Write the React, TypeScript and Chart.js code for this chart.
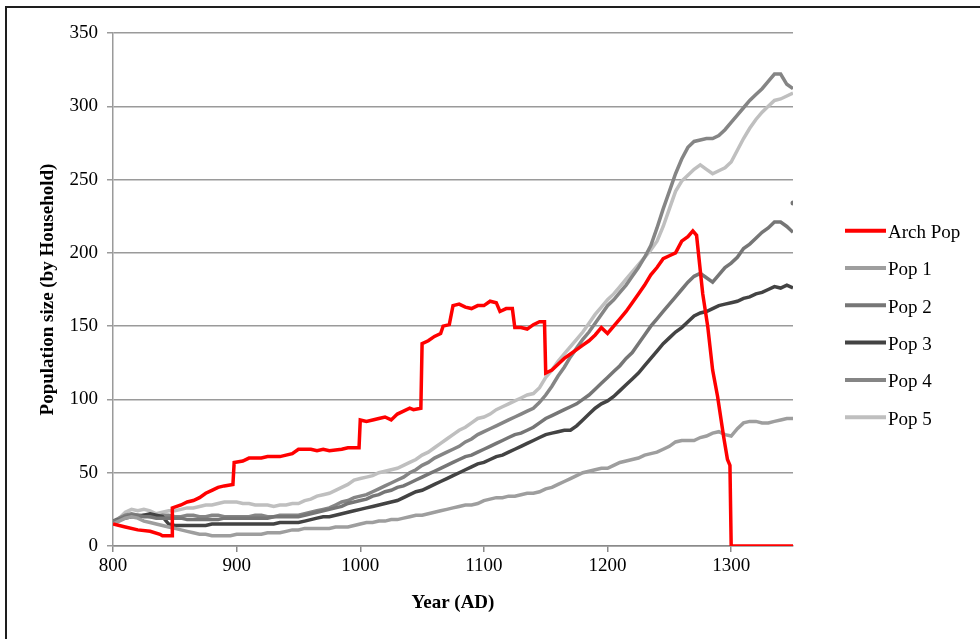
import React, { useEffect, useRef } from "react";
import { Chart, registerables } from "chart.js";

Chart.register(...registerables);

// ---- data ----
const years = [
  800, 805, 810, 815, 820, 825, 830, 835, 840, 845,
  850, 855, 860, 865, 870, 875, 880, 885, 890, 895,
  900, 905, 910, 915, 920, 925, 930, 935, 940, 945,
  950, 955, 960, 965, 970, 975, 980, 985, 990, 995,
  1000, 1005, 1010, 1015, 1020, 1025, 1030, 1035, 1040, 1045,
  1050, 1055, 1060, 1065, 1070, 1075, 1080, 1085, 1090, 1095,
  1100, 1105, 1110, 1115, 1120, 1125, 1130, 1135, 1140, 1145,
  1150, 1155, 1160, 1165, 1170, 1175, 1180, 1185, 1190, 1195,
  1200, 1205, 1210, 1215, 1220, 1225, 1230, 1235, 1240, 1245,
  1250, 1255, 1260, 1265, 1270, 1275, 1280, 1285, 1290, 1295,
  1300, 1305, 1310, 1315, 1320, 1325, 1330, 1335, 1340, 1345,
  1350,
];

const pop1 = [
  15, 17, 19, 20, 19, 17, 16, 15, 14, 13,
  12, 11, 10, 9, 8, 8, 7, 7, 7, 7,
  8, 8, 8, 8, 8, 9, 9, 9, 10, 11,
  11, 12, 12, 12, 12, 12, 13, 13, 13, 14,
  15, 16, 16, 17, 17, 18, 18, 19, 20, 21,
  21, 22, 23, 24, 25, 26, 27, 28, 28, 29,
  31, 32, 33, 33, 34, 34, 35, 36, 36, 37,
  39, 40, 42, 44, 46, 48, 50, 51, 52, 53,
  53, 55, 57, 58, 59, 60, 62, 63, 64, 66,
  68, 71, 72, 72, 72, 74, 75, 77, 78, 76,
  75, 80, 84, 85, 85, 84, 84, 85, 86, 87,
  87,
];

const pop2 = [
  17, 18, 20, 21, 21, 20, 20, 19, 19, 19,
  19, 19, 18, 18, 18, 18, 18, 18, 19, 19,
  19, 19, 19, 19, 19, 19, 20, 20, 20, 20,
  20, 21, 22, 23, 24, 25, 26, 27, 29, 30,
  31, 32, 34, 35, 37, 38, 40, 41, 43, 45,
  47, 49, 51, 53, 55, 57, 59, 61, 62, 64,
  66, 68, 70, 72, 74, 76, 77, 79, 81, 84,
  87, 89, 91, 93, 95, 97, 100, 103, 107, 111,
  115, 119, 123, 128, 132, 138, 144, 150, 155, 160,
  165, 170, 175, 180, 184, 186, 183, 180, 185, 190,
  193, 197, 203, 206, 210, 214, 217, 221, 221, 218,
  214,
];

const pop3 = [
  17, 18, 19, 20, 20, 21, 22, 21, 20, 15,
  14, 14, 14, 14, 14, 14, 15, 15, 15, 15,
  15, 15, 15, 15, 15, 15, 15, 16, 16, 16,
  16, 17, 18, 19, 20, 20, 21, 22, 23, 24,
  25, 26, 27, 28, 29, 30, 31, 33, 35, 37,
  38, 40, 42, 44, 46, 48, 50, 52, 54, 56,
  57, 59, 61, 62, 64, 66, 68, 70, 72, 74,
  76, 77, 78, 79, 79, 82, 86, 90, 94, 97,
  99, 102, 106, 110, 114, 118, 123, 128, 133, 138,
  142, 146, 149, 153, 157, 159, 160, 162, 164, 165,
  166, 167, 169, 170, 172, 173, 175, 177, 176, 178,
  176,
];

const pop4 = [
  17, 19, 21, 22, 21, 21, 20, 20, 21, 21,
  20, 20, 21, 21, 20, 20, 21, 21, 20, 20,
  20, 20, 20, 21, 21, 20, 20, 21, 21, 21,
  21, 22, 23, 24, 25, 26, 28, 30, 31, 33,
  34, 35, 37, 39, 41, 43, 45, 47, 50, 52,
  55, 57, 60, 62, 64, 66, 68, 71, 73, 76,
  78, 80, 82, 84, 86, 88, 90, 92, 94, 98,
  103, 109, 116, 122, 129, 135, 141, 146, 152, 158,
  164, 168, 173, 178, 184, 190, 197, 205, 217, 230,
  242, 254, 264, 272, 276, 277, 278, 278, 280, 284,
  289, 294, 299, 304, 308, 312, 317, 322, 322, 315,
  312,
];

const pop5 = [
  15, 19, 23, 25, 24, 25, 24, 22, 23, 24,
  24, 25, 26, 26, 27, 28, 28, 29, 30, 30,
  30, 29, 29, 28, 28, 28, 27, 28, 28, 29,
  29, 31, 32, 34, 35, 36, 38, 40, 42, 45,
  46, 47, 48, 50, 51, 52, 53, 55, 57, 59,
  62, 64, 67, 70, 73, 76, 79, 81, 84, 87,
  88, 90, 93, 95, 97, 99, 101, 103, 104, 108,
  115, 120, 126, 131, 136, 141, 146, 152, 158, 163,
  168, 172, 177, 182, 187, 192, 197, 202, 208, 218,
  230, 242, 249, 253, 257, 260, 257, 254, 256, 258,
  262, 270, 278, 285, 291, 296, 300, 304, 305, 307,
  309,
];

const archYears = [
  800, 810, 820, 830, 838, 840, 848, 848, 855, 860,
  865, 870, 875, 880, 885, 890, 897, 898, 905, 910,
  920, 925, 930, 935, 940, 945, 950, 960, 965, 970,
  975, 985, 990, 999, 1000, 1005, 1010, 1015, 1020, 1025,
  1030, 1035, 1040, 1043, 1049, 1050, 1055, 1060, 1065, 1067,
  1072, 1075, 1080, 1085, 1090, 1095, 1100, 1105, 1110, 1113,
  1118, 1123, 1125, 1130, 1135, 1140, 1145, 1149, 1150, 1155,
  1160, 1165, 1170, 1175, 1180, 1185, 1190, 1195, 1200, 1205,
  1210, 1215, 1220, 1225, 1230, 1235, 1240, 1245, 1250, 1255,
  1260, 1265, 1269, 1272, 1273, 1275, 1277, 1281, 1285, 1289,
  1294, 1297, 1299, 1300, 1350,
];

const archPop = [
  15, 13, 11, 10, 8, 7, 7, 26, 28, 30,
  31, 33, 36, 38, 40, 41, 42, 57, 58, 60,
  60, 61, 61, 61, 62, 63, 66, 66, 65, 66,
  65, 66, 67, 67, 86, 85, 86, 87, 88, 86,
  90, 92, 94, 93, 94, 138, 140, 143, 145, 150,
  151, 164, 165, 163, 162, 164, 164, 167, 166, 160,
  162, 162, 149, 149, 148, 151, 153, 153, 118, 120,
  124, 128, 131, 134, 137, 140, 144, 149, 145, 150,
  155, 160, 166, 172, 178, 185, 190, 196, 198, 200,
  208, 211, 215, 212, 204, 188, 172, 150, 120, 102,
  74, 59, 55, 0, 0,
];

// Stray end point of Pop 2 drawn as a dot
const pop2EndDotYear = [1350];
const pop2EndDot = [234];

const seriesNames = ["Arch Pop", "Pop 1", "Pop 2", "Pop 3", "Pop 4", "Pop 5"];
const seriesColors = ["#ff0000", "#9e9e9e", "#767676", "#434343", "#858585", "#bfbfbf"];

const xTicks = [800, 900, 1000, 1100, 1200, 1300];
const yTicks = [0, 50, 100, 150, 200, 250, 300, 350];

const FONT = "'Liberation Serif', 'Times New Roman', serif";

const zip = (xs: number[], ys: number[]) => xs.map((x, i) => ({ x, y: ys[i] }));

const legendPlugin = {
  id: "sideLegend",
  afterDraw(chart: any) {
    const ctx = chart.ctx;
    ctx.save();
    const startY = 230.7;
    const step = 37.3;
    seriesNames.forEach((name, i) => {
      const y = startY + i * step;
      ctx.strokeStyle = seriesColors[i];
      ctx.lineWidth = 4;
      ctx.lineCap = "butt";
      ctx.beginPath();
      ctx.moveTo(845, y);
      ctx.lineTo(886, y);
      ctx.stroke();
      ctx.fillStyle = "#000";
      ctx.font = `19px ${FONT}`;
      ctx.textBaseline = "middle";
      ctx.textAlign = "left";
      ctx.fillText(name, 888, y + 2.5);
    });
    ctx.restore();
  },
};

export default function App() {
  const ref = useRef<HTMLCanvasElement | null>(null);

  useEffect(() => {
    if (!ref.current) return;
    const seriesData = [
      zip(archYears, archPop),
      zip(years, pop1),
      zip(years, pop2),
      zip(years, pop3),
      zip(years, pop4),
      zip(years, pop5),
    ];
    const datasets: any[] = seriesData.map((d, i) => ({
      label: seriesNames[i],
      data: d,
      borderColor: seriesColors[i],
      backgroundColor: seriesColors[i],
      borderWidth: 3.5,
      pointRadius: 0,
      tension: 0,
      fill: false,
    }));
    datasets.push({
      label: "Pop 2 end",
      data: zip(pop2EndDotYear, pop2EndDot),
      borderColor: seriesColors[2],
      backgroundColor: seriesColors[2],
      showLine: false,
      pointRadius: 2.5,
      pointBorderWidth: 0,
    });

    const chart = new Chart(ref.current, {
      type: "line",
      data: { datasets },
      plugins: [legendPlugin],
      options: {
        responsive: false,
        animation: false,
        layout: { padding: { left: 0, right: 187, top: 33, bottom: 0 } },
        plugins: {
          legend: { display: false },
          tooltip: { enabled: false },
        },
        scales: {
          x: {
            type: "linear",
            min: 800,
            max: 1350,
            afterBuildTicks: (s: any) => {
              s.ticks = xTicks.map((v) => ({ value: v }));
            },
            afterFit: (s: any) => {
              s.height = 93;
            },
            ticks: {
              color: "#000",
              font: { family: FONT, size: 19 },
              padding: 3,
              maxRotation: 0,
              callback: (v: any) => String(v),
            },
            grid: {
              drawOnChartArea: false,
              drawTicks: true,
              tickLength: 6,
              color: "#8a8a8a",
              lineWidth: 1.5,
            },
            border: { display: true, color: "#8a8a8a", width: 1.5 },
            title: {
              display: true,
              text: "Year (AD)",
              color: "#000",
              font: { family: FONT, size: 19, weight: "bold" },
              padding: { top: 0, bottom: 25 },
            },
          },
          y: {
            type: "linear",
            min: 0,
            max: 350,
            afterBuildTicks: (s: any) => {
              s.ticks = yTicks.map((v) => ({ value: v }));
            },
            afterFit: (s: any) => {
              s.width = 113;
            },
            ticks: {
              color: "#000",
              font: { family: FONT, size: 19 },
              padding: 9,
              callback: (v: any) => String(v),
            },
            grid: {
              color: "#9a9a9a",
              lineWidth: 1.5,
              drawTicks: true,
              tickLength: 6,
            },
            border: { display: true, color: "#9a9a9a", width: 1.5 },
            title: {
              display: true,
              text: "Population size (by Household)",
              color: "#000",
              font: { family: FONT, size: 19, weight: "bold" },
              padding: { top: 37, bottom: 0 },
            },
          },
        },
      },
    });
    return () => chart.destroy();
  }, []);

  return (
    <div
      style={{
        position: "absolute",
        left: 0,
        top: 0,
        width: 980,
        height: 639,
        overflow: "hidden",
        background: "#fff",
      }}
    >
      <div
        style={{
          position: "absolute",
          left: 5,
          top: 6,
          width: 1100,
          height: 800,
          border: "2px solid #1e1e1e",
          boxSizing: "border-box",
        }}
      />
      <canvas
        ref={ref}
        width={980}
        height={639}
        style={{ position: "absolute", left: 0, top: 0, width: 980, height: 639 }}
      />
    </div>
  );
}
